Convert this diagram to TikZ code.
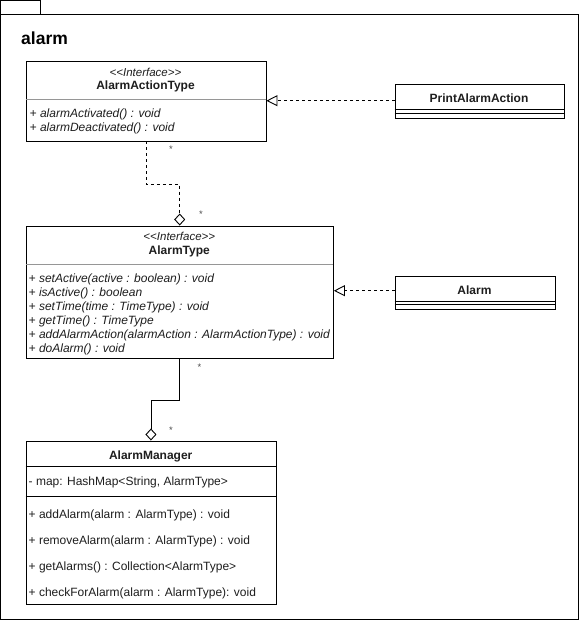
\documentclass[tikz,border=0pt]{standalone}
\usepackage{fontspec}
\setmainfont{Liberation Sans}[Ligatures=NoCommon]
\usetikzlibrary{arrows.meta}
\definecolor{sepgray}{RGB}{150,150,150}
\definecolor{txt}{RGB}{30,30,30}
\newcommand{\lt}{\symbol{60}}
\newcommand{\gt}{\symbol{62}}
\tikzset{
  box/.style={draw=black, line width=0.9pt, fill=white, anchor=north west, inner sep=0pt},
  stereo/.style={font=\fontsize{11.5}{13}\selectfont\itshape, text=txt, inner sep=0pt},
  cname/.style={font=\fontsize{12}{14}\selectfont\bfseries, text=txt, inner sep=0pt},
  imember/.style={font=\fontsize{12}{14}\selectfont\itshape, text=txt, anchor=west, inner sep=0pt, text height=8.6pt, text depth=2.5pt, yshift=-1.5pt},
  member/.style={font=\fontsize{12}{14}\selectfont, text=txt, anchor=west, inner sep=0pt, text height=8.6pt, text depth=2.5pt, yshift=-1.5pt},
  mult/.style={font=\fontsize{9.5}{10}\selectfont, text=black!70, inner sep=0pt},
  realize/.style={dash pattern=on 3pt off 3pt, line width=0.9pt, -{Triangle[open, length=11pt, width=11pt]}},
  aggr/.style={line width=0.9pt, -{Diamond[open, length=12pt, width=11pt]}},
  sep/.style={line width=0.9pt},
}
\begin{document}
\begin{tikzpicture}[x=1pt,y=-1pt]
\useasboundingbox (0,0) rectangle (581,621);
% package
\draw[line width=0.9pt] (0.5,0.5) rectangle (40,14);
\draw[line width=0.9pt] (0.5,14) rectangle (578,619.5);
\node[anchor=west, inner sep=0pt, font=\fontsize{17.5}{20}\selectfont\bfseries] (pkg) at (21,38) {alarm};

% AlarmActionType
\node[box, minimum width=240pt, minimum height=80pt] (aat) at (25.5,60.5) {};
\node[stereo] (aats) at (145.5,72) {\lt{}\lt{}Interface\gt{}\gt{}};
\node[cname] (aatn) at (145.5,86.5) {AlarmActionType};
\draw[sep, draw=sepgray] (25.5,99.5) -- (265.5,99.5);
\node[imember] (aatm1) at (29.5,113) {+ alarmActivated() : void};
\node[imember] (aatm2) at (29.5,127) {+ alarmDeactivated() : void};

% AlarmType
\node[box, minimum width=307.5pt, minimum height=132.5pt] (at) at (25.5,225.5) {};
\node[stereo] (ats) at (179.3,236) {\lt{}\lt{}Interface\gt{}\gt{}};
\node[cname] (atn) at (179.3,251.5) {AlarmType};
\draw[sep, draw=sepgray] (25.5,264.5) -- (333,264.5);
\node[imember] (atm1) at (28.5,278) {+ setActive(active : boolean) : void};
\node[imember] (atm2) at (28.5,292) {+ isActive() : boolean};
\node[imember] (atm3) at (28.5,306) {+ setTime(time : TimeType) : void};
\node[imember] (atm4) at (28.5,320) {+ getTime() : TimeType};
\node[imember] (atm5) at (28.5,334) {+ addAlarmAction(alarmAction : AlarmActionType) : void};
\node[imember] (atm6) at (28.5,348) {+ doAlarm() : void};

% AlarmManager
\node[box, minimum width=250pt, minimum height=163.5pt] (am) at (25.5,440.5) {};
\node[cname] (amn) at (150.7,456) {AlarmManager};
\draw[sep] (25.5,466.5) -- (275.5,466.5);
\node[member] (ama) at (28.5,481) {- map: HashMap\lt{}String, AlarmType\gt{}};
\draw[sep] (25.5,496.5) -- (275.5,496.5);
\node[member] (amm1) at (28.5,513.5) {+ addAlarm(alarm : AlarmType) : void};
\node[member] (amm2) at (28.5,539.5) {+ removeAlarm(alarm : AlarmType) : void};
\node[member] (amm3) at (28.5,565.5) {+ getAlarms() : Collection\lt{}AlarmType\gt{}};
\node[member] (amm4) at (28.5,591.5) {+ checkForAlarm(alarm : AlarmType): void};

% PrintAlarmAction
\node[box, minimum width=169pt, minimum height=34pt] (paa) at (394.5,83.5) {};
\node[cname] (paan) at (479,98) {PrintAlarmAction};
\draw[sep] (394.5,109.5) -- (563.5,109.5);
\draw[sep] (394.5,113) -- (563.5,113);

% Alarm
\node[box, minimum width=160pt, minimum height=33pt] (al) at (394.5,275.5) {};
\node[cname] (aln) at (474.5,290.5) {Alarm};
\draw[sep] (394.5,301) -- (554.5,301);
\draw[sep] (394.5,304.5) -- (554.5,304.5);

% realizations
\draw[realize] (paa.west |- 0,100.7) -- (aat.east |- 0,100.7);
\draw[realize] (al.west |- 0,290.7) -- (at.east |- 0,290.7);

% aggregations
\draw[aggr, dash pattern=on 3pt off 3pt] (aat.south) -- ++(0,43) -| (at.north);
\draw[aggr] (at.south) -- ++(0,41.5) -| (am.north);

% multiplicities
\node[mult] (m1) at (171,149) {*};
\node[mult] (m2) at (201,214.5) {*};
\node[mult] (m3) at (199.5,367.5) {*};
\node[mult] (m4) at (171,430) {*};
\end{tikzpicture}
\end{document}
